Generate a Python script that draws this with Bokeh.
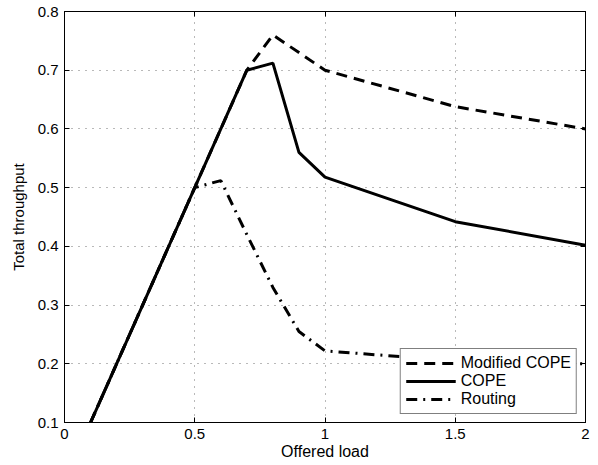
from bokeh.plotting import figure
from bokeh.models import Range1d, LinearAxis, FixedTicker, Legend, LegendItem
from bokeh.embed import file_html
from bokeh.resources import INLINE

# ---- data ----
offered_load = [0.1, 0.2, 0.3, 0.4, 0.5, 0.6, 0.7, 0.8, 0.9, 1.0, 1.5, 2.0]
modified_cope = [0.1, 0.2, 0.3, 0.4, 0.5, 0.6, 0.7, 0.76, 0.73, 0.70, 0.638, 0.60]
cope = [0.1, 0.2, 0.3, 0.4, 0.5, 0.6, 0.7, 0.712, 0.56, 0.518, 0.442, 0.402]
routing = [0.1, 0.2, 0.3, 0.4, 0.5, 0.512, 0.42, 0.33, 0.255, 0.222, 0.205, 0.20]

x_ticks = [0, 0.5, 1, 1.5, 2]
x_tick_labels = ["0", "0.5", "1", "1.5", "2"]
y_ticks = [0.1, 0.2, 0.3, 0.4, 0.5, 0.6, 0.7, 0.8]
y_tick_labels = ["0.1", "0.2", "0.3", "0.4", "0.5", "0.6", "0.7", "0.8"]

FONT = "Liberation Sans"

p = figure(width=598, height=465, output_backend="svg", toolbar_location=None,
           x_range=Range1d(0, 2), y_range=Range1d(0.1, 0.8),
           min_border_left=64, min_border_right=13, min_border_top=11, min_border_bottom=43)

p.outline_line_color = "black"
p.outline_line_width = 1
p.background_fill_color = "white"
p.border_fill_color = "white"

for ax, ticks, labels in ((p.xaxis[0], x_ticks, x_tick_labels), (p.yaxis[0], y_ticks, y_tick_labels)):
    ax.ticker = FixedTicker(ticks=ticks)
    ax.major_label_overrides = {t: l for t, l in zip(ticks, labels)}
    ax.major_tick_in = 5
    ax.major_tick_out = 0
    ax.minor_tick_line_color = None
    ax.axis_line_color = "black"
    ax.major_label_text_font = FONT
    ax.major_label_text_font_size = "15px"
    ax.major_label_text_color = "black"
    ax.axis_label_text_font = FONT
    ax.axis_label_text_font_style = "normal"
    ax.axis_label_text_color = "black"

p.xaxis.axis_label = "Offered load"
p.yaxis.axis_label = "Total throughput"
p.xaxis.axis_label_text_font_size = "16px"
p.yaxis.axis_label_text_font_size = "15px"
p.xaxis.major_label_standoff = 6
p.xaxis.axis_label_standoff = 1
p.yaxis.major_label_standoff = 6
p.yaxis.axis_label_standoff = 8

# mirrored ticks on top and right
for loc, ticks in (("right", y_ticks), ("above", x_ticks)):
    a = LinearAxis(ticker=FixedTicker(ticks=ticks), major_tick_in=5, major_tick_out=0,
                   minor_tick_line_color=None,
                   major_label_overrides={t: "" for t in ticks},
                   major_label_standoff=0, axis_line_color="black")
    p.add_layout(a, loc)

for g, ticks in ((p.xgrid[0], x_ticks), (p.ygrid[0], y_ticks)):
    g.ticker = FixedTicker(ticks=ticks)
    g.grid_line_color = "black"
    g.grid_line_alpha = 0.55
    g.grid_line_dash = "1 6"
    g.grid_line_width = 1

r1 = p.line(offered_load, modified_cope, line_color="black", line_width=3, line_dash="11 7")
r2 = p.line(offered_load, cope, line_color="black", line_width=3)
r3 = p.line(offered_load, routing, line_color="black", line_width=3, line_dash="11 6 2 6")

legend = Legend(items=[LegendItem(label="Modified COPE", renderers=[r1]),
                       LegendItem(label="COPE", renderers=[r2]),
                       LegendItem(label="Routing", renderers=[r3])],
                location="bottom_right", margin=8, padding=5, spacing=0,
                glyph_width=50, glyph_height=18, label_height=18,
                label_text_font=FONT, label_text_font_size="16px", label_standoff=5,
                label_text_color="black",
                border_line_color="black", border_line_width=1,
                background_fill_alpha=1)
p.add_layout(legend, "center")

open("out.html", "w").write(file_html(p, INLINE))
